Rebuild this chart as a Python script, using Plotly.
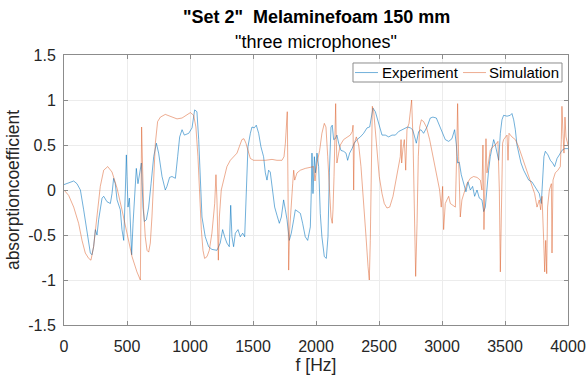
import plotly.graph_objects as go

exp_f = [0,24,77,103,130,156,183,209,222,235,249,262,275,288,302,315,341,368,381,394,407,421,434,447,460,474,487,495,500,508,519,526,537,548,558,574,587,600,614,627,638,654,672,691,712,733,751,778,804,817,838,857,884,902,918,937,955,990,1016,1037,
         1055,1069,1082,1095,1121,1148,1174,1214,1240,1259,1275,1293,1312,1323,1333,1346,1360,1381,1399,1418,1434,1447,1460,1479,1492,1510,1526,1545,1563,1584,1598,1611,1624,1637,1656,1672,1690,1709,1725,1743,1757,1770,1788,1804,1823,1836,1857,1876,1894,1915,1934,1955,
         1963,1968,1976,1987,1995,2008,2021,2034,2047,2066,2082,2095,2106,2119,2129,2140,2153,2166,2180,2198,2219,2238,2251,2267,2286,2304,2325,2352,2378,2405,2426,2439,2452,2471,2484,2505,2524,2550,2577,2603,2630,2656,2682,2709,2727,2749,2767,2783,2796,2815,2833,2854,2881,2907,2928,2955,
         2973,3000,3026,3053,3079,3100,3114,3124,3137,3153,3172,3190,3206,3225,3243,3259,3278,3296,3317,3331,3344,3357,3370,3383,3397,3410,3423,3439,3450,3463,3476,3489,3516,3542,3555,3569,3582,3595,3608,3627,3648,3667,3688,3714,3735,3754,3772,3788,3799,3809,3820,3841,3860,3878,3894,3913,3931,3952,3973,4000]
exp_v = [0.06,0.07,0.1,0.07,0,-0.22,-0.48,-0.7,-0.72,-0.63,-0.44,-0.5,-0.33,-0.22,-0.09,-0.07,-0.13,-0.15,-0.04,0.13,0.07,-0.11,-0.17,-0.22,-0.44,-0.56,0,0.39,0.15,-0.19,-0.09,-0.33,-0.72,-0.37,-0.11,0.24,0.07,0.19,0.3,-0.19,-0.35,-0.33,-0.19,0.07,0.37,0.52,0.41,0.15,0,0.04,0.14,0.15,0.13,0.37,0.59,0.67,0.61,0.63,0.69,0.89,
         0.87,0.56,0.07,-0.3,-0.52,-0.63,-0.66,-0.67,-0.59,-0.44,-0.52,-0.59,-0.63,-0.17,-0.52,-0.63,-0.48,-0.44,-0.52,-0.48,-0.52,0,0.48,0.63,0.7,0.69,0.72,0.63,0.48,0.37,0.19,0.11,0.22,0.2,0,-0.19,-0.28,-0.37,-0.3,-0.11,-0.22,-0.33,-0.56,-0.48,-0.33,-0.22,-0.24,-0.26,-0.37,-0.52,-0.56,-0.41,
         0,0.41,-0.04,0.37,0.19,0.41,0.26,-0.26,-0.52,-0.74,-0.76,-0.52,0.19,0.7,0.72,0.56,0.57,0.61,0.52,0.44,0.43,0.41,0.33,0.41,0.46,0.52,0.56,0.59,0.63,0.69,0.7,0.81,0.91,0.87,0.81,0.7,0.61,0.61,0.59,0.61,0.61,0.65,0.67,0.69,0.7,0.69,0.67,0.59,0.52,0.65,0.67,0.63,0.7,0.8,0.81,0.8,
         0.74,0.63,0.56,0.54,0.57,0.67,0.5,0.3,0.31,0.17,0.07,-0.02,0.09,0,0.04,-0.07,0,-0.09,-0.11,-0.24,-0.19,0.04,0.22,0.37,0.46,0.56,0.5,0.39,0.33,0.63,0.78,0.83,0.82,0.83,0.85,0.78,0.67,0.5,0.41,0.3,0.22,0.17,0.11,0.09,0.04,0,-0.04,-0.15,0.07,0.37,0.43,0.39,0.33,0.3,0.26,0.35,0.39,0.44,0.46,0.46]

sim_f = [0,37,77,116,143,169,196,214,235,262,288,315,347,381,421,460,500,540,579,606,616,624,632,645,659,672,685,698,712,725,743,765,804,844,897,937,976,1003,1029,1047,1063,1076,1090,1103,1116,1135,1153,1174,1196,1206,1214,1225,1233,1248,1267,1293,1320,1346,1373,1391,1412,1428,1444,1460,1479,1505,1545,1598,1651,1690,1730,1746,1757,1767,1772,1778,1783,1791,1804,1815,1823,1831,1849,1876,1915,1955,1981,1992,2008,2029,2047,2066,2079,2093,2106,2119,2129,2135,2143,2151,2156,2161,2166,2180,2193,2219,2246,2272,2288,2294,2299,2304,2320,2339,2357,2378,2397,2413,2423,2431,2439,2447,2458,2471,2484,2502,2524,2542,2563,2585,2611,2637,2656,2669,2675,2680,2690,2701,2712,2722,2738,2749,2759,2770,2780,2791,2802,2812,2823,2836,2854,2876,2902,2929,2955,2981,2994,3005,3013,3026,3039,3053,3066,3092,3106,3116,3124,3132,3145,3158,3180,3198,3225,3251,3278,3304,3317,3325,3333,3341,3349,3357,3370,3383,3402,3423,3444,3455,3463,3471,3481,3489,3502,3516,3524,3532,3555,3582,3608,3635,3661,3688,3714,3735,3754,3772,3783,3794,3807,3815,3823,3831,3838,3852,3868,3873,3881,3899,3920,3939,3947,3952,3960,3968,3976,3984,4000]
sim_v = [0,-0.06,-0.19,-0.37,-0.56,-0.7,-0.76,-0.78,-0.63,-0.3,0.04,0.22,0.26,0.2,0.02,-0.22,-0.48,-0.74,-0.91,-1.0,0.7,0,-0.22,-0.52,-0.67,-0.69,-0.59,-0.3,0.19,0.52,0.76,0.81,0.84,0.82,0.79,0.8,0.84,0.86,0.83,0.7,0.37,-0.07,-0.44,-0.67,-0.76,-0.74,-0.67,-0.48,-0.15,0.17,-0.11,-0.78,-0.3,0,0.11,0.26,0.33,0.37,0.41,0.48,0.56,0.57,0.52,0.44,0.35,0.33,0.33,0.33,0.34,0.33,0.33,0.37,0.52,0.81,0.87,0,-0.89,-0.44,-0.11,0.07,0.22,0.11,0.19,0.22,0.24,0.25,0.26,0.1,0.3,0.44,0.63,0.74,0.7,0.37,0,-0.3,-0.37,-0.22,0.15,0.74,0.96,0.56,0.3,0.41,0.5,0.56,0.59,0.61,0.65,0.72,0,0.52,0.59,0.5,0.26,-0.11,-0.52,-0.85,-1.0,-0.56,0.37,0.93,0.87,0.67,0.44,0.15,-0.04,-0.15,-0.2,-0.19,-0.07,0.11,0.26,0.37,0.56,0.3,0.46,0.56,0.22,0.67,0.74,0.89,1.0,0.56,-0.37,-0.96,-0.37,0.37,0.7,0.78,0.76,0.7,0.56,0.37,0.19,0,-0.19,0.04,-0.44,-0.15,-0.11,-0.07,-0.15,-0.17,-0.19,0.37,0.96,0.37,-0.3,-0.11,0,0.07,0.13,0.15,0.14,0.11,0,0.5,-0.44,0.3,0.57,0.19,0.33,0.44,0.48,0.5,0.54,0,-0.91,0,0.52,0.56,0.59,0.61,0.33,0.63,0.59,0.56,0.48,0.37,0.26,0.15,0.06,-0.04,-0.19,-0.11,-0.22,-0.07,-0.56,-0.91,-0.56,-0.93,-0.19,0,0.07,-0.7,0.11,0.19,0.22,0.26,0.56,0.93,0.63,0.41,0.81,0.59,0.5]

x_ticks = [0,500,1000,1500,2000,2500,3000,3500,4000]
y_ticks = [-1.5,-1,-0.5,0,0.5,1,1.5]
y_tick_text = ["-1.5","-1","-0.5","0","0.5","1","1.5"]
series_names = ["Experiment", "Simulation"]

FONT = "Liberation Sans, Arial"
EXP_COLOR = "rgba(0,114,189,0.7)"
SIM_COLOR = "rgba(217,83,25,0.6)"

fig = go.Figure()
fig.add_trace(go.Scatter(x=exp_f, y=exp_v, mode="lines", name=series_names[0],
                         line=dict(color=EXP_COLOR, width=0.8), showlegend=False))
fig.add_trace(go.Scatter(x=sim_f, y=sim_v, mode="lines", name=series_names[1],
                         line=dict(color=SIM_COLOR, width=0.8), showlegend=False))

axis_common = dict(showline=True, linecolor="#8c8c8c", linewidth=1, mirror="ticks",
                   ticks="inside", ticklen=4, tickcolor="#8c8c8c",
                   showgrid=True, gridcolor="#ececec", gridwidth=1, zeroline=False,
                   automargin=False,
                   tickfont=dict(family=FONT, size=16, color="#262626"))

fig.update_xaxes(range=[0, 4000], tickvals=x_ticks, ticktext=[str(v) for v in x_ticks],
                 ticklabelstandoff=7,
                 title=dict(text="f [Hz]", font=dict(family=FONT, size=17.5, color="#262626"), standoff=4),
                 **axis_common)
fig.update_yaxes(range=[-1.5, 1.5], tickvals=y_ticks, ticktext=y_tick_text,
                 ticklabelstandoff=4,
                 title=dict(text="absorptioncoefficient", font=dict(family=FONT, size=17.5, color="#262626"), standoff=4),
                 **axis_common)

# manual legend box (MATLAB style)
L_X0, L_X1, L_Y0, L_Y1 = 0.5734, 0.9881, 0.90, 0.9704
LY = 0.935
shapes = [
    dict(type="rect", xref="paper", yref="paper", x0=L_X0, x1=L_X1, y0=L_Y0, y1=L_Y1,
         fillcolor="white", line=dict(color="#8c8c8c", width=1), layer="above"),
    dict(type="line", xref="paper", yref="paper", x0=0.5774, x1=0.6230, y0=LY, y1=LY,
         line=dict(color=EXP_COLOR, width=0.8), layer="above"),
    dict(type="line", xref="paper", yref="paper", x0=0.7917, x1=0.8373, y0=LY, y1=LY,
         line=dict(color=SIM_COLOR, width=0.8), layer="above"),
]

plot_h = 383 - 55 - 58
annotations = [
    dict(text='<b>"Set 2"  Melaminefoam 150 mm</b>', x=0.5, y=1 + (55 - 17) / plot_h,
         xref="paper", yref="paper", yanchor="middle",
         showarrow=False, font=dict(family=FONT, size=18, color="#000000")),
    dict(text='"three microphones"', x=0.5, y=1 + (55 - 42) / plot_h,
         xref="paper", yref="paper", yanchor="middle",
         showarrow=False, font=dict(family=FONT, size=18, color="#000000")),
    dict(text=series_names[0], x=0.627, y=LY, xref="paper", yref="paper",
         xanchor="left", yanchor="middle", showarrow=False,
         font=dict(family=FONT, size=15, color="#000000")),
    dict(text=series_names[1], x=0.8393, y=LY, xref="paper", yref="paper",
         xanchor="left", yanchor="middle", showarrow=False,
         font=dict(family=FONT, size=15, color="#000000")),
]

fig.update_layout(
    width=586, height=383,
    margin=dict(l=64, r=18, t=55, b=58),
    plot_bgcolor="white", paper_bgcolor="white",
    showlegend=False,
    shapes=shapes,
    annotations=annotations,
)

fig.write_html("out.html", config={"displayModeBar": False},
               post_script="document.body.style.margin='0';document.body.style.overflow='hidden';")
